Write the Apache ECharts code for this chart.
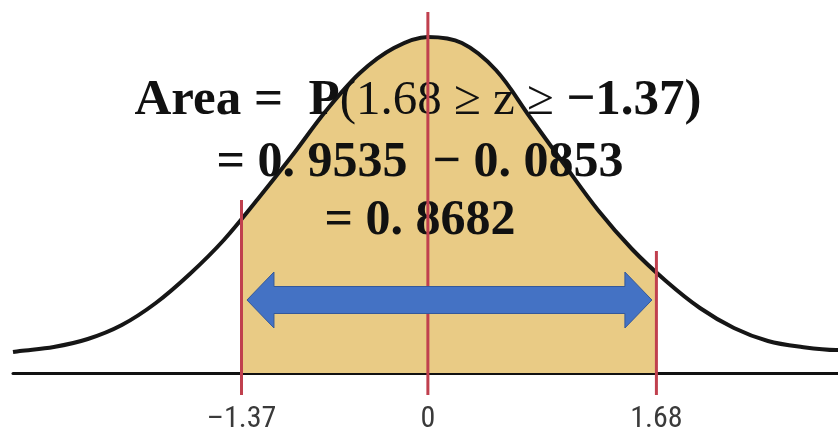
<!DOCTYPE html>
<html lang="en">
<head>
    <meta charset="UTF-8">
    <title>Area between z = -1.37 and z = 1.68</title>
    <script src="https://cdn.jsdelivr.net/npm/echarts@6.0.0/dist/echarts.min.js"></script>
    <style>
        html, body { margin: 0; padding: 0; background: #fff; }
        #main { width: 838px; height: 432px; }
    </style>
</head>
<body>
    <div id="main"></div>
    <script type="text/javascript">
        // bell curve (z, height above the axis line)
        var curveX = [-3.05, -3, -2.75, -2.5, -2.25, -2, -1.75, -1.5, -1.25, -1, -0.75, -0.5, -0.25,
                      0, 0.25, 0.5, 0.75, 1, 1.25, 1.5, 1.75, 2, 2.25, 2.5, 2.75, 3, 3.015];
        var curveY = [21, 22, 26, 34, 48, 70, 99, 133, 174, 217, 262, 300, 325,
                      336, 330, 303, 256, 209, 163, 124, 92, 65, 45, 32, 26, 23, 23];

        // shaded region and the red markers
        var zLow = -1.37;
        var zHigh = 1.68;
        var markerX = [-1.37, 0, 1.68];
        var markerTop = [173, 361, 122];
        var tickValues = [-1.37, 0, 1.68];

        // blue double arrow: [from z, to z, height]
        var arrowData = [[-1.33, 1.647, 73]];

        var yMin = -22, yMax = 373;

        var myChart = echarts.init(document.getElementById('main'));

        var curveData = curveX.map(function (x, i) { return [x, curveY[i]]; });
        var markerData = markerX.map(function (x, i) { return [x, markerTop[i]]; });

        var option = {
            animation: false,
            grid: { left: 13, right: 0, top: 0, bottom: 37, containLabel: false, outerBoundsMode: 'none' },
            xAxis: {
                type: 'value',
                min: -3.05,
                max: 3.015,
                axisLine: { onZero: true, lineStyle: { color: '#111', width: 3 } },
                axisTick: { show: false },
                splitLine: { show: false },
                axisLabel: {
                    customValues: tickValues,
                    margin: 9,
                    color: '#3a3a3a',
                    fontSize: 30,
                    fontFamily: '"Liberation Sans Narrow", "Roboto Condensed", Roboto, sans-serif',
                    formatter: function (v) {
                        return v < 0 ? '\u2013' + Math.abs(v) : String(v);
                    }
                }
            },
            yAxis: {
                type: 'value',
                min: yMin,
                max: yMax,
                show: false
            },
            visualMap: {
                type: 'piecewise',
                show: false,
                dimension: 0,
                seriesIndex: 0,
                pieces: [{ gte: zLow, lte: zHigh, color: '#E9CB85' }],
                outOfRange: { color: 'rgba(0,0,0,0)' }
            },
            series: [
                {
                    type: 'line',
                    data: curveData,
                    smooth: 0.35,
                    showSymbol: false,
                    z: 2,
                    lineStyle: { color: '#161616', width: 4 },
                    areaStyle: { opacity: 1 }
                },
                {
                    // red vertical lines
                    type: 'custom',
                    data: markerData,
                    z: 4,
                    renderItem: function (params, api) {
                        var p0 = api.coord([api.value(0), yMin]);
                        var p1 = api.coord([api.value(0), api.value(1)]);
                        return {
                            type: 'line',
                            shape: { x1: p0[0], y1: p0[1], x2: p1[0], y2: p1[1] },
                            style: { stroke: '#C0404E', lineWidth: 3 }
                        };
                    }
                },
                {
                    // double headed arrow
                    type: 'custom',
                    data: arrowData,
                    encode: { x: [0, 1], y: 2 },
                    z: 5,
                    renderItem: function (params, api) {
                        var a = api.coord([api.value(0), api.value(2)]);
                        var b = api.coord([api.value(1), api.value(2)]);
                        var y = a[1], hl = 27, hh = 28, sh = 13.5;
                        return {
                            type: 'polygon',
                            shape: {
                                points: [
                                    [a[0], y], [a[0] + hl, y - hh], [a[0] + hl, y - sh],
                                    [b[0] - hl, y - sh], [b[0] - hl, y - hh], [b[0], y],
                                    [b[0] - hl, y + hh], [b[0] - hl, y + sh],
                                    [a[0] + hl, y + sh], [a[0] + hl, y + hh]
                                ]
                            },
                            style: { fill: '#4472C4', stroke: '#34589A', lineWidth: 1 }
                        };
                    }
                }
            ],
            graphic: [
                {
                    type: 'text', x: 418, y: 101, z: 3,
                    style: {
                        text: '{b|Area =  P}{r|(1.68 \u2265 z \u2265 }{b|\u22121.37)}',
                        align: 'center', verticalAlign: 'middle',
                        rich: {
                            b: { fontFamily: '"Liberation Serif", serif', fontWeight: 'bold', fontSize: 51, fill: '#111' },
                            r: { fontFamily: '"Liberation Serif", serif', fontSize: 49, fill: '#111' }
                        }
                    }
                },
                {
                    type: 'text', x: 420, y: 163, z: 3,
                    style: {
                        text: '= 0. 9535  \u2212 0. 0853',
                        align: 'center', verticalAlign: 'middle',
                        fontFamily: '"Liberation Serif", serif', fontWeight: 'bold', fontSize: 50, fill: '#111'
                    }
                },
                {
                    type: 'text', x: 420, y: 221, z: 3,
                    style: {
                        text: '= 0. 8682',
                        align: 'center', verticalAlign: 'middle',
                        fontFamily: '"Liberation Serif", serif', fontWeight: 'bold', fontSize: 50, fill: '#111'
                    }
                }
            ]
        };

        myChart.setOption(option);
    </script>
</body>
</html>
